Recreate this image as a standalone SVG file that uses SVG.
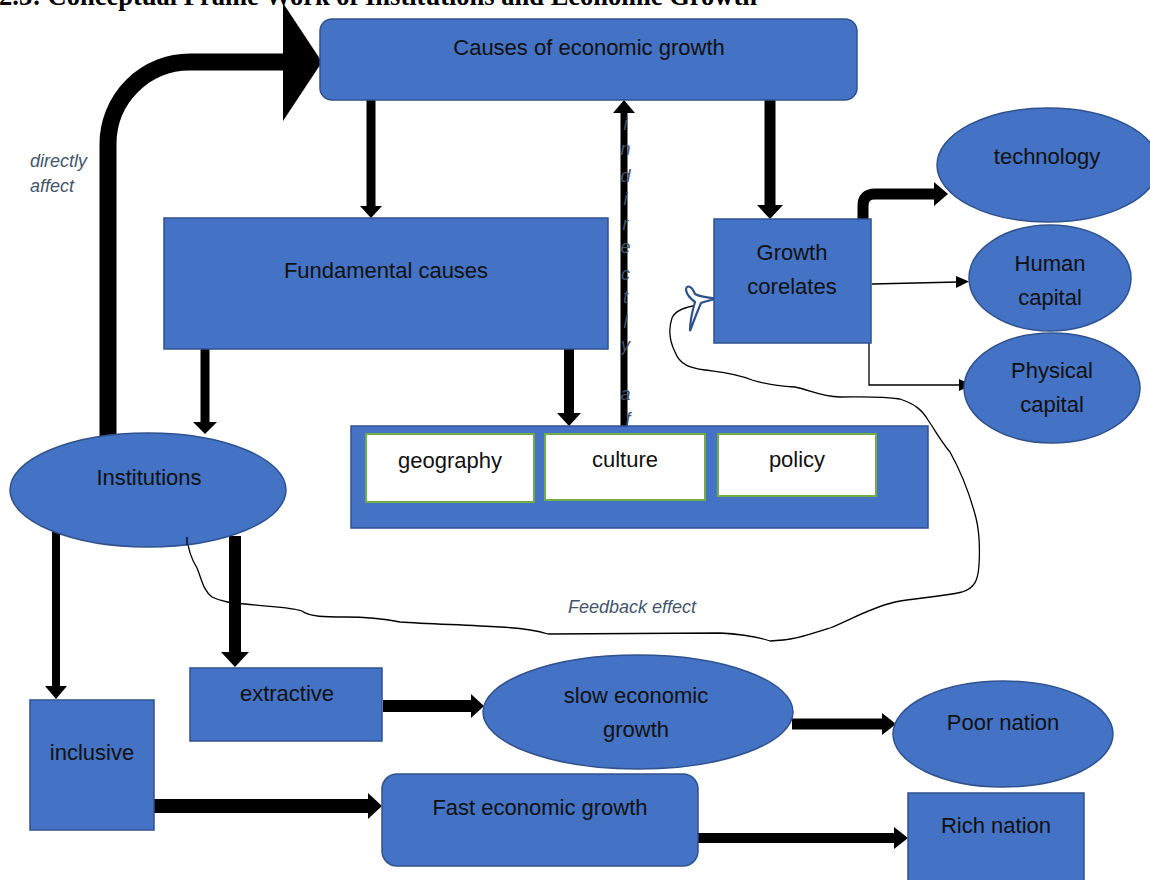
<svg xmlns="http://www.w3.org/2000/svg" width="1150" height="880" viewBox="0 0 1150 880">
  <style>
    .node { fill: #4472C4; stroke: #2F528F; stroke-width: 1.5; }
    .inner { fill: #FFFFFF; stroke: #70AD47; stroke-width: 2; }
    .lbl { font-family: "Liberation Sans", Arial, sans-serif; font-size: 22px; fill: #111111; text-anchor: middle; }
    .note { font-family: "Liberation Sans", Arial, sans-serif; font-style: italic; fill: #44546A; }
    .shaft { stroke: #000000; fill: none; }
    .head { fill: #000000; stroke: none; }
    .thin { stroke: #000000; stroke-width: 1.3; fill: none; }
    .title { font-family: "Liberation Serif", "Times New Roman", serif; font-weight: bold; font-size: 26.5px; fill: #000000; }
  </style>
  <rect width="1150" height="880" fill="#FFFFFF"/>

  <text class="title" x="-1" y="5">2.3: Conceptual Frame Work of Institutions and Economic Growth</text>

  <g id="connectors">
    <!-- directly affect: Institutions -> Causes -->
    <path class="shaft" stroke-width="17" d="M108,440 L108,144 A82,82 0 0 1 190,62 L286,62"/>
    <polygon class="head" points="283,3 322,62 283,121"/>
    <!-- Causes -> Fundamental -->
    <line class="shaft" stroke-width="9" x1="371" y1="100" x2="371" y2="208"/>
    <polygon class="head" points="360,206 382,206 371,218"/>
    <!-- Causes -> Growth corelates -->
    <line class="shaft" stroke-width="11" x1="770" y1="100" x2="770" y2="207"/>
    <polygon class="head" points="757,205 783,205 770,219"/>
    <!-- indirectly affect: box -> Causes -->
    <line class="shaft" stroke-width="7" x1="624" y1="426" x2="624" y2="110"/>
    <polygon class="head" points="613,113 635,113 624,100"/>
    <!-- Fundamental -> Institutions -->
    <line class="shaft" stroke-width="9" x1="205" y1="349" x2="205" y2="424"/>
    <polygon class="head" points="193,422 217,422 205,434"/>
    <!-- Fundamental -> geography/culture/policy -->
    <line class="shaft" stroke-width="10" x1="569" y1="349" x2="569" y2="415"/>
    <polygon class="head" points="557,413 581,413 569,426"/>
    <!-- Growth corelates -> technology -->
    <path class="shaft" stroke-width="11" d="M863,220 L863,206 Q863,194 875,194 L937,194"/>
    <polygon class="head" points="934,182 948,194 934,206"/>
    <!-- Growth corelates -> Human capital -->
    <line class="thin" x1="872" y1="284" x2="958" y2="282"/>
    <polygon class="head" points="956,276 969,281.5 956,288"/>
    <!-- Growth corelates -> Physical capital -->
    <polyline class="thin" points="812,320 869,320 869,385 961,385"/>
    <polygon class="head" points="959,379 972,385 959,391"/>
    <!-- Institutions -> inclusive -->
    <line class="shaft" stroke-width="8" x1="56" y1="528" x2="56" y2="688"/>
    <polygon class="head" points="45,686 67,686 56,699"/>
    <!-- Institutions -> extractive -->
    <line class="shaft" stroke-width="12" x1="235" y1="536" x2="235" y2="654"/>
    <polygon class="head" points="221,652 249,652 235,667"/>
    <!-- extractive -> slow economic growth -->
    <line class="shaft" stroke-width="12" x1="383" y1="706" x2="473" y2="706"/>
    <polygon class="head" points="471,694 484,706 471,718"/>
    <!-- slow economic growth -> Poor nation -->
    <line class="shaft" stroke-width="11" x1="792" y1="724" x2="884" y2="724"/>
    <polygon class="head" points="882,713 896,724 882,735"/>
    <!-- inclusive -> Fast economic growth -->
    <line class="shaft" stroke-width="14" x1="154" y1="806" x2="370" y2="806"/>
    <polygon class="head" points="368,793 382,806 368,819"/>
    <!-- Fast economic growth -> Rich nation -->
    <line class="shaft" stroke-width="10" x1="698" y1="838" x2="896" y2="838"/>
    <polygon class="head" points="894,827 908,838 894,849"/>
    <!-- Feedback effect curve -->
    <path class="thin" stroke-width="1.2" d="M187,537 C188,550 192,560 197,568 C202,580 203,590 212,597 C222,602 232,603 245,604 C270,607 290,607 302,611 C310,617 325,617 345,617 C365,617 385,619 400,622 C430,624 470,625 500,627 C520,628 535,630 548,634 C600,634 660,633 720,633 C740,634 755,636 770,641 C790,641 805,636 830,628 C850,620 870,608 895,602 C915,598 940,597 962,592 C975,588 978,580 979,565 C980,548 979,530 976,518 C970,495 960,470 950,452 C940,440 935,430 928,420 C922,410 915,404 900,399 C880,396 860,397 840,397 C820,396 810,390 795,387 C780,386 765,384 752,380 C735,373 720,372 705,370 C690,368 680,365 675,352 C670,342 668,330 672,318 C675,311 682,308 693,306"/>
    <path fill="none" stroke="#2F528F" stroke-width="2.2" d="M716,299 C708,297 700,297 695,294 C692,286 686,284 686,290 C687,296 691,299 695,302 C692,312 690,322 690,331 C694,320 698,310 701,303 C706,301 711,300 716,299 Z"/>
  </g>

  <!-- indirectly affect (vertical label over the arrow) -->
  <text class="note" font-size="18" text-anchor="middle">
    <tspan x="628" y="130">i</tspan>
    <tspan x="628" y="155">n</tspan>
    <tspan x="628" y="182">d</tspan>
    <tspan x="628" y="205">i</tspan>
    <tspan x="628" y="230">r</tspan>
    <tspan x="628" y="253">e</tspan>
    <tspan x="628" y="280">c</tspan>
    <tspan x="628" y="303">t</tspan>
    <tspan x="628" y="328">l</tspan>
    <tspan x="628" y="351">y</tspan>
    <tspan x="628" y="400">a</tspan>
    <tspan x="628" y="425">f</tspan>
  </text>

  <text class="note" font-size="18" x="30" y="167">directly</text>
  <text class="note" font-size="18" x="30" y="192">affect</text>
  <text class="note" font-size="18" x="568" y="613">Feedback effect</text>

  <g id="causes">
    <rect class="node" x="320" y="19" width="537" height="81" rx="12"/>
    <text class="lbl" x="589" y="55">Causes of economic growth</text>
  </g>
  <g id="fundamental">
    <rect class="node" x="164" y="218" width="444" height="131"/>
    <text class="lbl" x="386" y="278">Fundamental causes</text>
  </g>
  <g id="factors">
    <rect class="node" x="351" y="426" width="577" height="102"/>
    <g id="geography">
      <rect class="inner" x="366" y="434" width="168" height="68"/>
      <text class="lbl" x="450" y="468">geography</text>
    </g>
    <g id="culture">
      <rect class="inner" x="545" y="434" width="160" height="66"/>
      <text class="lbl" x="625" y="467">culture</text>
    </g>
    <g id="policy">
      <rect class="inner" x="718" y="434" width="158" height="62"/>
      <text class="lbl" x="797" y="467">policy</text>
    </g>
  </g>
  <g id="growth-corelates">
    <rect class="node" x="714" y="219" width="157" height="124"/>
    <text class="lbl" x="792" y="260">Growth</text>
    <text class="lbl" x="792" y="294">corelates</text>
  </g>
  <g id="technology">
    <ellipse class="node" cx="1048" cy="165" rx="111" ry="57"/>
    <text class="lbl" x="1047" y="164">technology</text>
  </g>
  <g id="human-capital">
    <ellipse class="node" cx="1050" cy="278" rx="81" ry="53"/>
    <text class="lbl" x="1050" y="271">Human</text>
    <text class="lbl" x="1050" y="305">capital</text>
  </g>
  <g id="physical-capital">
    <ellipse class="node" cx="1052" cy="388" rx="88" ry="55"/>
    <text class="lbl" x="1052" y="378">Physical</text>
    <text class="lbl" x="1052" y="412">capital</text>
  </g>
  <g id="institutions">
    <ellipse class="node" cx="148" cy="490" rx="138" ry="57"/>
    <text class="lbl" x="149" y="485">Institutions</text>
  </g>
  <path class="thin" stroke-width="1.2" d="M187,537 C187,541 187,543 187,545"/>
  <g id="inclusive">
    <rect class="node" x="30" y="700" width="124" height="130"/>
    <text class="lbl" x="92" y="760">inclusive</text>
  </g>
  <g id="extractive">
    <rect class="node" x="190" y="668" width="192" height="73"/>
    <text class="lbl" x="287" y="701">extractive</text>
  </g>
  <g id="slow-growth">
    <ellipse class="node" cx="638" cy="712" rx="155" ry="57"/>
    <text class="lbl" x="636" y="703">slow economic</text>
    <text class="lbl" x="636" y="737">growth</text>
  </g>
  <g id="poor-nation">
    <ellipse class="node" cx="1003" cy="734" rx="110" ry="53"/>
    <text class="lbl" x="1003" y="730">Poor nation</text>
  </g>
  <g id="fast-growth">
    <rect class="node" x="382" y="774" width="316" height="92" rx="15"/>
    <text class="lbl" x="540" y="815">Fast economic growth</text>
  </g>
  <g id="rich-nation">
    <rect class="node" x="908" y="793" width="176" height="95"/>
    <text class="lbl" x="996" y="833">Rich nation</text>
  </g>
</svg>
